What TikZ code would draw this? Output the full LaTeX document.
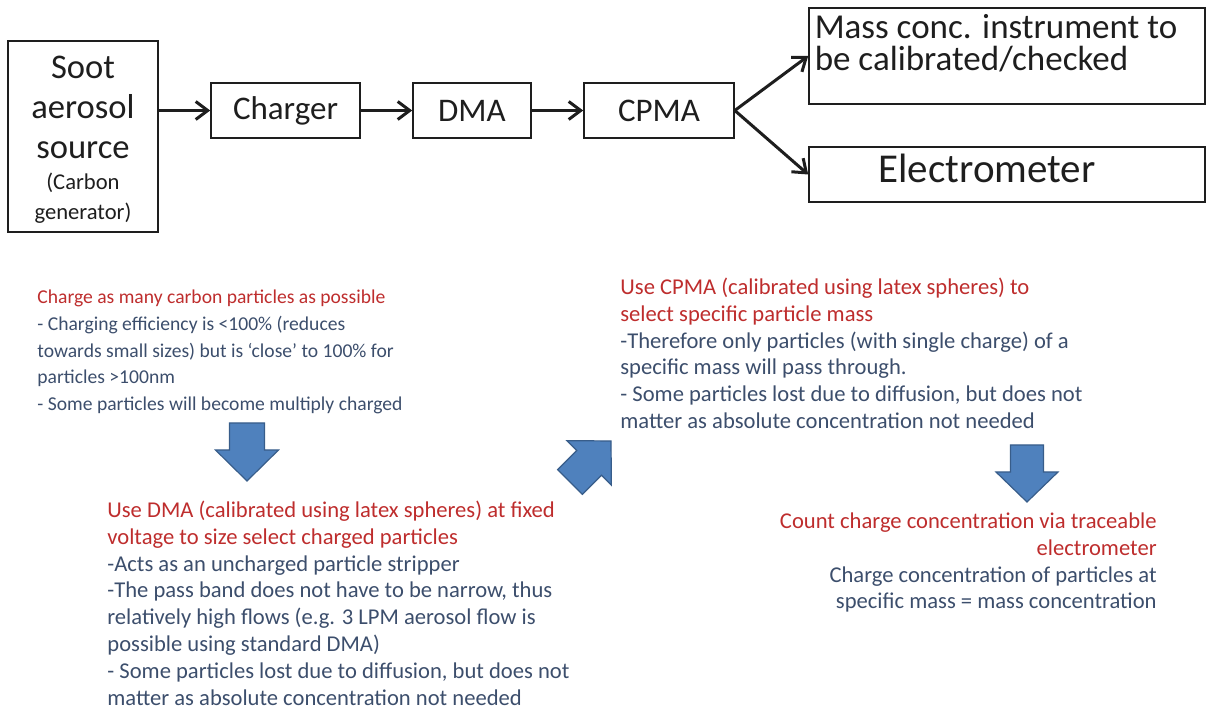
\documentclass[tikz,border=0pt]{standalone}
\usepackage{fontspec}
\setmainfont{Carlito}
\usepackage{tikz}
\usetikzlibrary{arrows.meta, positioning}
\definecolor{notered}{RGB}{190,45,45}
\definecolor{notebody}{RGB}{60,78,108}
\definecolor{arrowblue}{RGB}{79,129,189}
\definecolor{arrowedge}{RGB}{56,93,138}
\definecolor{boxink}{RGB}{30,30,30}
\newcommand\srcsmall{\fontsize{11.3pt}{15pt}\selectfont}
\tikzset{
    flowbox/.style={rectangle, draw=boxink, line width=0.8pt, inner sep=0pt, align=center, text=boxink, font=\fontsize{16.5pt}{20pt}\selectfont},
    boxtext/.style={inner sep=0pt, align=center, text=boxink, font=\fontsize{17.3pt}{20pt}\selectfont},
    flowarrow/.style={-{Straight Barb[length=6pt,width=9pt]}, line width=1.5pt, draw=boxink},
    noteblock/.style={inner sep=0pt, text=notebody, font=\fontsize{11.3pt}{13.4pt}\selectfont},
    bluearrow/.style={fill=arrowblue, draw=arrowedge, line width=0.6pt, line join=miter}
}

\begin{document}
\begin{tikzpicture}[x=0.5pt, y=0.5pt]
    \useasboundingbox (0,0) rectangle (1206,713);

    \node[flowbox, minimum width=75pt, minimum height=95.5pt,
          label={[boxtext, yshift=-1.75pt]center:{Soot\\aerosol\\source\\[-4.5pt]\srcsmall (Carbon\\[-5pt]\srcsmall generator)}}]
          (soot) at (83,576.5) {};
    \node[flowbox, minimum width=74.5pt, minimum height=27.5pt] (charger) at (285.5,602.5) {Charger};
    \node[flowbox, minimum width=59pt, minimum height=27.5pt] (dma) at (472,602.5) {DMA};
    \node[flowbox, minimum width=75pt, minimum height=27.5pt] (cpma) at (659,602.5) {CPMA};
    \node[flowbox, minimum width=198pt, minimum height=48pt,
          label={[boxtext, align=left, font=\fontsize{17.5pt}{16pt}\selectfont, xshift=-5.5pt, yshift=6.5pt]center:{Mass conc. instrument to\\be calibrated/checked}}]
          (mass) at (1007,657) {};
    \node[flowbox, minimum width=198pt, minimum height=27.5pt,
          label={[boxtext, font=\fontsize{20.5pt}{20pt}\selectfont, xshift=-10pt, yshift=3.25pt]center:Electrometer}]
          (elec) at (1007,538.5) {};

    % Instrument chain
    \draw[flowarrow] (soot.east |- charger.west) -- (charger.west);
    \draw[flowarrow] (charger) -- (dma);
    \draw[flowarrow] (dma) -- (cpma);
    \draw[flowarrow] (cpma.east) -- (mass.west);
    \draw[flowarrow] (cpma.east) -- (elec.west);

    % Notes
    \node[noteblock, font=\fontsize{9.8pt}{13.4pt}\selectfont, anchor=north west, align=left] (chargenote) at (37,423.5)
        {\textcolor{notered}{Charge as many carbon particles as possible}\\
         - Charging efficiency is <100\% (reduces\\
         towards small sizes) but is ‘close’ to 100\% for\\
         particles >100nm\\
         - Some particles will become multiply charged};
    \node[noteblock, anchor=north west, align=left] (dmanote) at (107,212.5)
        {\textcolor{notered}{Use DMA (calibrated using latex spheres) at fixed}\\
         \textcolor{notered}{voltage to size select charged particles}\\
         -Acts as an uncharged particle stripper\\
         -The pass band does not have to be narrow, thus\\
         relatively high flows (e.g. 3 LPM aerosol flow is\\
         possible using standard DMA)\\
         - Some particles lost due to diffusion, but does not\\
         matter as absolute concentration not needed};
    \node[noteblock, anchor=north west, align=left] (cpmanote) at (620,435.5)
        {\textcolor{notered}{Use CPMA (calibrated using latex spheres) to}\\
         \textcolor{notered}{select specific particle mass}\\
         -Therefore only particles (with single charge) of a\\
         specific mass will pass through.\\
         - Some particles lost due to diffusion, but does not\\
         matter as absolute concentration not needed};
    \node[noteblock, anchor=north east, align=right] (countnote) at (1157,200.5)
        {\textcolor{notered}{Count charge concentration via traceable}\\
         \textcolor{notered}{electrometer}\\
         Charge concentration of particles at\\
         specific mass = mass concentration};

    % Step arrows
    \filldraw[bluearrow, shift={(247,290)}, rotate=-90]
        (0,-17.5) -- (27,-17.5) -- (27,-31.5) -- (58,0) -- (27,31.5) -- (27,17.5) -- (0,17.5) -- cycle;
    \filldraw[bluearrow, shift={(570,231)}, rotate=45]
        (0,-17.5) -- (27,-17.5) -- (27,-31.5) -- (58,0) -- (27,31.5) -- (27,17.5) -- (0,17.5) -- cycle;
    \filldraw[bluearrow, shift={(1027,268)}, rotate=-90]
        (0,-16.5) -- (27,-16.5) -- (27,-31) -- (57,0) -- (27,31) -- (27,16.5) -- (0,16.5) -- cycle;
\end{tikzpicture}
\end{document}
